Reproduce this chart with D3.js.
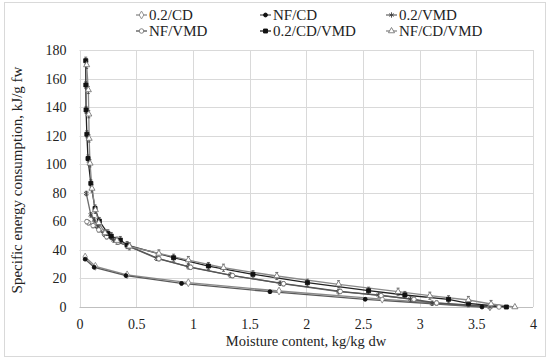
<!DOCTYPE html>
<html>
<head>
<meta charset="utf-8">
<script src="https://cdn.jsdelivr.net/npm/d3@7"></script>
<style>
  body { margin: 0; background: #fff; }
</style>
</head>
<body>
<svg id="chart" width="550" height="363"></svg>
<script>
var FONT = "'Liberation Serif', 'Times New Roman', serif";

// tick values
var xTicks = [0, 0.5, 1, 1.5, 2, 2.5, 3, 3.5, 4];
var yTicks = [0, 20, 40, 60, 80, 100, 120, 140, 160, 180];

// series (moisture kg/kg dw, energy kJ/g fw)
var cd02X = [3.62, 2.67, 1.76, 0.96, 0.42, 0.14, 0.05];
var cd02Y = [0, 5.5, 11.2, 17.0, 22.5, 28.5, 35.0];

var cdNFX = [3.55, 2.52, 1.68, 0.90, 0.41, 0.13, 0.05];
var cdNFY = [0, 5.4, 10.7, 16.5, 22.0, 27.8, 33.5];

var vmd02X = [3.62, 3.11, 2.92, 2.64, 2.285, 1.77, 1.33, 0.96, 0.68, 0.42, 0.30, 0.22, 0.16, 0.13, 0.10, 0.06];
var vmd02Y = [0, 2.6, 5.6, 8.4, 10.7, 16.6, 22.4, 28.2, 34.1, 43.0, 47.0, 51.0, 56.5, 61.0, 64.5, 79.5];

var vmdNFX = [3.70, 3.15, 2.95, 2.66, 2.30, 1.80, 1.35, 0.98, 0.70, 0.44, 0.34, 0.24, 0.17, 0.12, 0.08, 0.065];
var vmdNFY = [0, 2.8, 5.4, 8.0, 10.9, 16.3, 22.0, 27.8, 33.8, 42.5, 45.5, 49.2, 54.0, 57.0, 59.0, 59.8];

var cdvmd02X = [3.765, 3.43, 3.255, 2.87, 2.55, 2.01, 1.53, 1.137, 0.83, 0.42, 0.36, 0.28, 0.25, 0.175, 0.137, 0.10, 0.075, 0.065, 0.058, 0.056, 0.055];
var cdvmd02Y = [0, 2.6, 5.4, 8.4, 11.4, 17.0, 22.9, 28.7, 34.5, 43.4, 46.9, 49.7, 51.6, 60.2, 69.0, 86.6, 104, 121, 138, 155.5, 172.5];

var cdvmdNFX = [3.84, 3.63, 3.43, 3.09, 2.81, 2.285, 1.74, 1.27, 0.96, 0.70, 0.44, 0.33, 0.225, 0.17, 0.14, 0.11, 0.093, 0.085, 0.082, 0.078, 0.063];
var cdvmdNFY = [0, 2.1, 4.9, 7.9, 10.7, 15.9, 21.7, 27.5, 32.9, 37.5, 42.5, 46.5, 51.8, 59.0, 68.0, 83.0, 100.6, 118, 135, 152, 169.5];

// error bar half-heights per series
var errCD = 0.8, errVMD = 1.5, errCDVMD = 2.5;

var series = [
    {name: "0.2/CD",     x: cd02X,    y: cd02Y,    err: errCD,    line: "#8a8a8a", sym: d3.symbolDiamond, fill: "#fff", stroke: "#8a8a8a", size: 18},
    {name: "NF/CD",      x: cdNFX,    y: cdNFY,    err: errCD,    line: "#5a5a5a", sym: d3.symbolCircle,  fill: "#111", stroke: "#111",    size: 12},
    {name: "0.2/VMD",    x: vmd02X,   y: vmd02Y,   err: errVMD,   line: "#6e6e6e", sym: d3.symbolAsterisk,fill: "none", stroke: "#444",    size: 20},
    {name: "NF/VMD",     x: vmdNFX,   y: vmdNFY,   err: errVMD,   line: "#555555", sym: d3.symbolCircle,  fill: "#fff", stroke: "#777",    size: 16},
    {name: "0.2/CD/VMD", x: cdvmd02X, y: cdvmd02Y, err: errCDVMD, line: "#222222", sym: d3.symbolSquare,  fill: "#111", stroke: "#111",    size: 16},
    {name: "NF/CD/VMD",  x: cdvmdNFX, y: cdvmdNFY, err: errCDVMD, line: "#8a8a8a", sym: d3.symbolTriangle,fill: "#fff", stroke: "#777",    size: 16}
];

var svg = d3.select("#chart");

// outer chart frame
svg.append("rect")
    .attr("x", 4.5).attr("y", 2.5)
    .attr("width", 541).attr("height", 354)
    .attr("fill", "none")
    .attr("stroke", "#d9d9d9");

var x = d3.scaleLinear().domain([0, 4]).range([79.5, 533]);
var y = d3.scaleLinear().domain([0, 180]).range([307, 50]);

// gridlines
svg.append("g").selectAll("line")
    .data(yTicks).enter().append("line")
    .attr("x1", x(0)).attr("x2", x(4))
    .attr("y1", function (d) { return Math.round(y(d)) + 0.5; })
    .attr("y2", function (d) { return Math.round(y(d)) + 0.5; })
    .attr("stroke", function (d) { return d === 0 ? "#bfbfbf" : "#d9d9d9"; });

svg.append("g").selectAll("line")
    .data(xTicks).enter().append("line")
    .attr("y1", y(0)).attr("y2", y(180))
    .attr("x1", function (d) { return Math.round(x(d)) + 0.5; })
    .attr("x2", function (d) { return Math.round(x(d)) + 0.5; })
    .attr("stroke", "#d9d9d9");

// axes, ticks hidden, labels only
var xAxis = svg.append("g")
    .attr("transform", "translate(0," + y(0) + ")")
    .call(d3.axisBottom(x).tickValues(xTicks).tickSize(0).tickPadding(12).tickFormat(d3.format("")));
var yAxis = svg.append("g")
    .attr("transform", "translate(" + x(0) + ",0)")
    .call(d3.axisLeft(y).tickValues(yTicks).tickSize(0).tickPadding(13));
[xAxis, yAxis].forEach(function (a) {
    a.attr("font-family", FONT).attr("font-size", 14);
    a.select(".domain").remove();
    a.selectAll("text")
        .style("font-family", FONT)
        .style("font-size", "14px")
        .attr("fill", "#222");
});

var line = d3.line()
    .x(function (d) { return x(d[0]); })
    .y(function (d) { return y(d[1]); });

series.forEach(function (s) {
    s.pts = s.x.map(function (v, i) { return [v, s.y[i]]; });
});

// lines first, then error bars, then markers
svg.append("g").selectAll("path")
    .data(series).enter().append("path")
    .attr("d", function (s) { return line(s.pts); })
    .attr("fill", "none")
    .attr("stroke", function (s) { return s.line; })
    .attr("stroke-width", 1.3);

series.forEach(function (s) {
    var g = svg.append("g").attr("stroke", "#444").attr("stroke-width", 0.8);
    s.pts.forEach(function (p) {
        if (p[1] === 0) return;
        var px = x(p[0]), y1 = y(p[1] + s.err), y2 = y(p[1] - s.err);
        g.append("line").attr("x1", px).attr("x2", px).attr("y1", y1).attr("y2", y2);
        g.append("line").attr("x1", px - 1.5).attr("x2", px + 1.5).attr("y1", y1).attr("y2", y1);
        g.append("line").attr("x1", px - 1.5).attr("x2", px + 1.5).attr("y1", y2).attr("y2", y2);
    });
});

series.forEach(function (s) {
    svg.append("g").selectAll("path")
        .data(s.pts).enter().append("path")
        .attr("transform", function (d) { return "translate(" + x(d[0]) + "," + y(d[1]) + ")"; })
        .attr("d", d3.symbol().type(s.sym).size(s.size))
        .attr("fill", s.fill)
        .attr("stroke", s.stroke)
        .attr("stroke-width", 0.9);
});

// axis titles
svg.append("text")
    .attr("x", 306).attr("y", 346)
    .attr("text-anchor", "middle")
    .style("font-family", FONT)
    .style("font-size", "14.5px")
    .attr("fill", "#222")
    .text("Moisture content, kg/kg dw");

svg.append("text")
    .attr("transform", "translate(22,180) rotate(-90)")
    .attr("text-anchor", "middle")
    .style("font-family", FONT)
    .style("font-size", "15px")
    .attr("fill", "#222")
    .text("Specific energy consumption, kJ/g fw");

// legend, 3 columns x 2 rows
var legX = [136, 260, 386], legY = [15, 31];
var leg = svg.append("g").selectAll("g")
    .data(series).enter().append("g")
    .attr("transform", function (s, i) { return "translate(" + legX[i % 3] + "," + legY[Math.floor(i / 3)] + ")"; });
leg.append("line")
    .attr("x1", 0).attr("x2", 11)
    .attr("stroke", function (s) { return s.line; })
    .attr("stroke-width", 1.3);
leg.append("path")
    .attr("transform", "translate(5.5,0)")
    .attr("d", function (s) { return d3.symbol().type(s.sym).size(s.size)(); })
    .attr("fill", function (s) { return s.fill; })
    .attr("stroke", function (s) { return s.stroke; })
    .attr("stroke-width", 0.9);
leg.append("text")
    .attr("x", 13).attr("y", 5)
    .style("font-family", FONT)
    .style("font-size", "15px")
    .attr("fill", "#222")
    .text(function (s) { return s.name; });
</script>
</body>
</html>
